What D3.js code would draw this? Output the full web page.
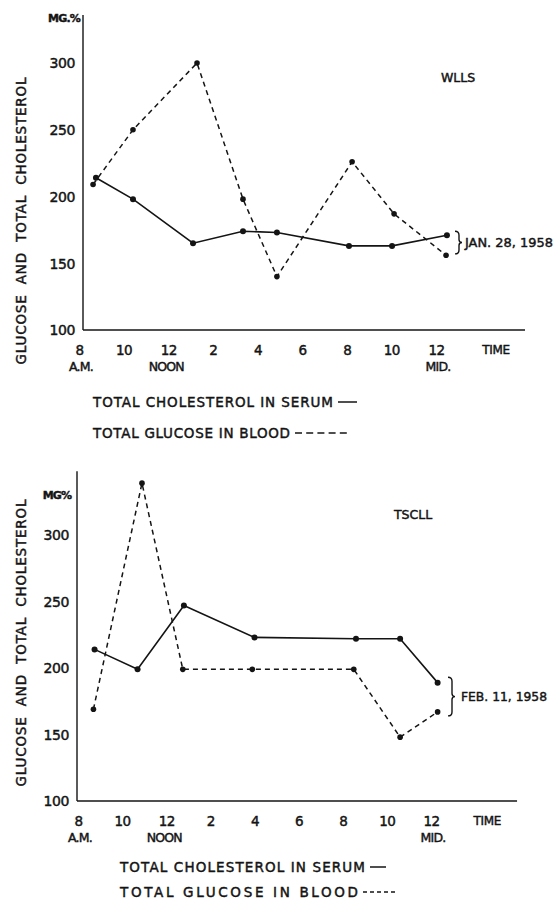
<!DOCTYPE html>
<html>
<head>
<meta charset="utf-8">
<script src="https://cdn.jsdelivr.net/npm/d3@7"></script>
<style>
  html, body { margin: 0; padding: 0; background: #fff; }
  svg { display: block; }
  text { font-family: "DejaVu Sans", "Liberation Sans", sans-serif; fill: #141414; stroke: #141414; stroke-width: 0.45; }
</style>
</head>
<body>
<script>
// Time of day in hours (8 = 8 A.M., 24 = midnight)
const hourTicks = [8, 10, 12, 14, 16, 18, 20, 22, 24];
const hourLabels = ["8", "10", "12", "2", "4", "6", "8", "10", "12"];
const subLabels = [{h: 8, t: "A.M."}, {h: 12, t: "NOON"}, {h: 24, t: "MID."}];
const valueTicks = [100, 150, 200, 250, 300];

// Patient WLLS, Jan. 28, 1958
const wllsCholHours = [8.76, 10.42, 13.11, 15.35, 16.87, 20.1, 22.03, 24.49];
const wllsCholValues = [214, 198, 165, 174, 173, 163, 163, 171];
const wllsGlucHours = [8.63, 10.42, 13.29, 15.35, 16.87, 20.24, 22.12, 24.45];
const wllsGlucValues = [209, 250, 300, 198, 140, 226, 187, 156];

// Patient TSCLL, Feb. 11, 1958
const tscllCholHours = [8.75, 10.7, 12.8, 16.0, 20.6, 22.6, 24.3];
const tscllCholValues = [214, 199, 247, 223, 222, 222, 189];
const tscllGlucHours = [8.7, 10.9, 12.75, 15.9, 20.5, 22.6, 24.3];
const tscllGlucValues = [169, 339, 199, 199, 199, 148, 167];

const W = 554, H = 900;
const ink = "#141414";

const svg = d3.select("body").append("svg")
  .attr("width", W).attr("height", H)
  .attr("viewBox", `0 0 ${W} ${H}`);

function drawPanel(p) {
  const x = d3.scaleLinear().domain([8, 24]).range([p.x8, p.x24]);
  const y = d3.scaleLinear().domain([100, 300]).range([p.y100, p.y300]);
  const g = svg.append("g");

  // Axis frame
  g.append("line")
    .attr("x1", p.axisX).attr("x2", p.axisX)
    .attr("y1", y(100)).attr("y2", y(p.topValue))
    .attr("stroke", ink).attr("stroke-width", 1.4);
  g.append("line")
    .attr("x1", p.axisX).attr("x2", x(p.endHour))
    .attr("y1", y(100)).attr("y2", y(100))
    .attr("stroke", ink).attr("stroke-width", 1.7);

  // Value tick labels
  const yAxis = d3.axisLeft(y).tickValues(valueTicks).tickSize(0).tickPadding(0)
    .tickFormat(d3.format("d"));
  const ya = g.append("g").attr("transform", `translate(${p.axisX - 8},0)`).call(yAxis);
  ya.select(".domain").remove();
  ya.selectAll("text")
    .attr("font-size", 14).attr("font-family", "DejaVu Sans, sans-serif")
    .attr("fill", ink).attr("dy", "0.35em").attr("letter-spacing", -0.4);

  g.append("text").attr("x", p.mgX).attr("y", p.mgY).attr("dy", "0.35em")
    .attr("font-size", 11).attr("font-weight", "bold").attr("text-anchor", "middle")
    .attr("letter-spacing", -0.8)
    .text(p.mgText);

  // Time tick labels
  const xAxis = d3.axisBottom(x).tickValues(hourTicks).tickSize(0).tickPadding(0)
    .tickFormat((d, i) => hourLabels[i]);
  const xa = g.append("g").attr("transform", `translate(0,${p.tickY})`).call(xAxis);
  xa.select(".domain").remove();
  xa.selectAll("text")
    .attr("font-size", 13.5).attr("font-family", "DejaVu Sans, sans-serif")
    .attr("fill", ink).attr("dy", "0.35em").attr("y", 0).attr("letter-spacing", -0.5);

  g.selectAll(".sub").data(subLabels).join("text")
    .attr("x", d => x(d.h) + (d.h === 8 ? 2 : (d.h === 12 ? -2 : 2)))
    .attr("y", p.tickY + p.subGap).attr("dy", "0.35em")
    .attr("text-anchor", "middle").attr("font-size", 12.5)
    .attr("letter-spacing", -0.8)
    .text(d => d.t);

  g.append("text").attr("x", x(p.timeHour)).attr("y", p.tickY).attr("dy", "0.35em")
    .attr("text-anchor", "middle").attr("font-size", 12).attr("letter-spacing", -0.3)
    .text("TIME");

  // Axis title
  g.append("text")
    .attr("transform", `translate(${p.titleX},${p.titleY}) rotate(-90)`)
    .attr("text-anchor", "middle").attr("dy", "0.35em")
    .attr("font-size", 13.5)
    .attr("textLength", p.titleLen).attr("lengthAdjust", "spacing")
    .text("GLUCOSE  AND  TOTAL  CHOLESTEROL")
    .style("white-space", "pre");

  // Patient name
  g.append("text").attr("x", p.nameX).attr("y", p.nameY).attr("dy", "0.35em")
    .attr("text-anchor", "middle").attr("font-size", 12.5).attr("stroke-width", 0.7)
    .text(p.name);

  // Series
  const line = d3.line().x(d => x(d[0])).y(d => y(d[1]));
  const chol = p.cholHours.map((h, i) => [h, p.cholValues[i]]);
  const gluc = p.glucHours.map((h, i) => [h, p.glucValues[i]]);

  g.append("path").datum(chol).attr("d", line)
    .attr("fill", "none").attr("stroke", ink).attr("stroke-width", 1.6);
  g.append("path").datum(gluc).attr("d", line)
    .attr("fill", "none").attr("stroke", ink).attr("stroke-width", 1.5)
    .attr("stroke-dasharray", "5,4");

  g.selectAll(".cdot").data(chol).join("circle")
    .attr("cx", d => x(d[0])).attr("cy", d => y(d[1])).attr("r", 3).attr("fill", ink);
  g.selectAll(".gdot").data(gluc).join("circle")
    .attr("cx", d => x(d[0])).attr("cy", d => y(d[1])).attr("r", 2.8).attr("fill", ink);

  // Date bracket joining the last two readings
  const bx = p.bracketX;
  const y1 = y(p.bracketTop), y2 = y(p.bracketBottom), ym = (y1 + y2) / 2;
  const bracket = d3.path();
  bracket.moveTo(bx, y1);
  bracket.quadraticCurveTo(bx + 4, y1, bx + 4, y1 + 4);
  bracket.lineTo(bx + 4, ym - 3);
  bracket.quadraticCurveTo(bx + 4, ym, bx + 7, ym);
  bracket.quadraticCurveTo(bx + 4, ym, bx + 4, ym + 3);
  bracket.lineTo(bx + 4, y2 - 4);
  bracket.quadraticCurveTo(bx + 4, y2, bx, y2);
  g.append("path").attr("d", bracket.toString())
    .attr("fill", "none").attr("stroke", ink).attr("stroke-width", 1.4);
  g.append("text").attr("x", p.dateX).attr("y", ym).attr("dy", "0.35em")
    .attr("font-size", 13).attr("textLength", p.dateLen).attr("lengthAdjust", "spacingAndGlyphs")
    .text(p.date);

  // Key
  g.append("text").attr("x", p.keyX).attr("y", p.keyY1).attr("dy", "0.35em")
    .attr("font-size", 13.5).attr("textLength", p.keyLen1).attr("lengthAdjust", "spacing")
    .text("TOTAL CHOLESTEROL IN SERUM");
  g.append("text").attr("x", p.keyX).attr("y", p.keyY2).attr("dy", "0.35em")
    .attr("font-size", 13.5).attr("textLength", p.keyLen2).attr("lengthAdjust", "spacing")
    .text("TOTAL GLUCOSE IN BLOOD");
  const e1 = p.keyX + p.keyLen1 + 5;
  const e2 = p.keyX + p.keyLen2 + 5;
  g.append("line").attr("x1", e1).attr("x2", e1 + p.keySolid)
    .attr("y1", p.keyY1).attr("y2", p.keyY1)
    .attr("stroke", ink).attr("stroke-width", 1.5);
  g.append("line").attr("x1", e2).attr("x2", e2 + p.keyDash)
    .attr("y1", p.keyY2).attr("y2", p.keyY2)
    .attr("stroke", ink).attr("stroke-width", 1.4).attr("stroke-dasharray", p.keyDashArray);
}

drawPanel({
  x8: 79, x24: 436, y100: 330, y300: 63, topValue: 336, axisX: 83, endHour: 27.99,
  tickY: 350, subGap: 17, timeHour: 26.69,
  mgX: 64, mgY: 18, mgText: "MG.%",
  titleX: 21, titleY: 221, titleLen: 287,
  nameX: 458, nameY: 78, name: "WLLS",
  cholHours: wllsCholHours, cholValues: wllsCholValues,
  glucHours: wllsGlucHours, glucValues: wllsGlucValues,
  bracketX: 455, bracketTop: 174, bracketBottom: 157, date: "JAN. 28, 1958",
  dateX: 465, dateLen: 88,
  keyX: 93, keyY1: 402, keyY2: 433, keyLen1: 240, keyLen2: 197, keySolid: 19,
  keyDash: 52, keyDashArray: "7,4.2"
});

drawPanel({
  x8: 78, x24: 431, y100: 801, y300: 535, topValue: 348, axisX: 77, endHour: 27.9,
  tickY: 821, subGap: 17, timeHour: 26.55,
  mgX: 57, mgY: 495, mgText: "MG%",
  titleX: 21, titleY: 643, titleLen: 287,
  nameX: 413, nameY: 515, name: "TSCLL",
  cholHours: tscllCholHours, cholValues: tscllCholValues,
  glucHours: tscllGlucHours, glucValues: tscllGlucValues,
  bracketX: 448, bracketTop: 193, bracketBottom: 164, date: "FEB. 11, 1958",
  dateX: 461, dateLen: 86,
  keyX: 120, keyY1: 867, keyY2: 892, keyLen1: 245, keyLen2: 238, keySolid: 16,
  keyDash: 32, keyDashArray: "4,3"
});
</script>
</body>
</html>
